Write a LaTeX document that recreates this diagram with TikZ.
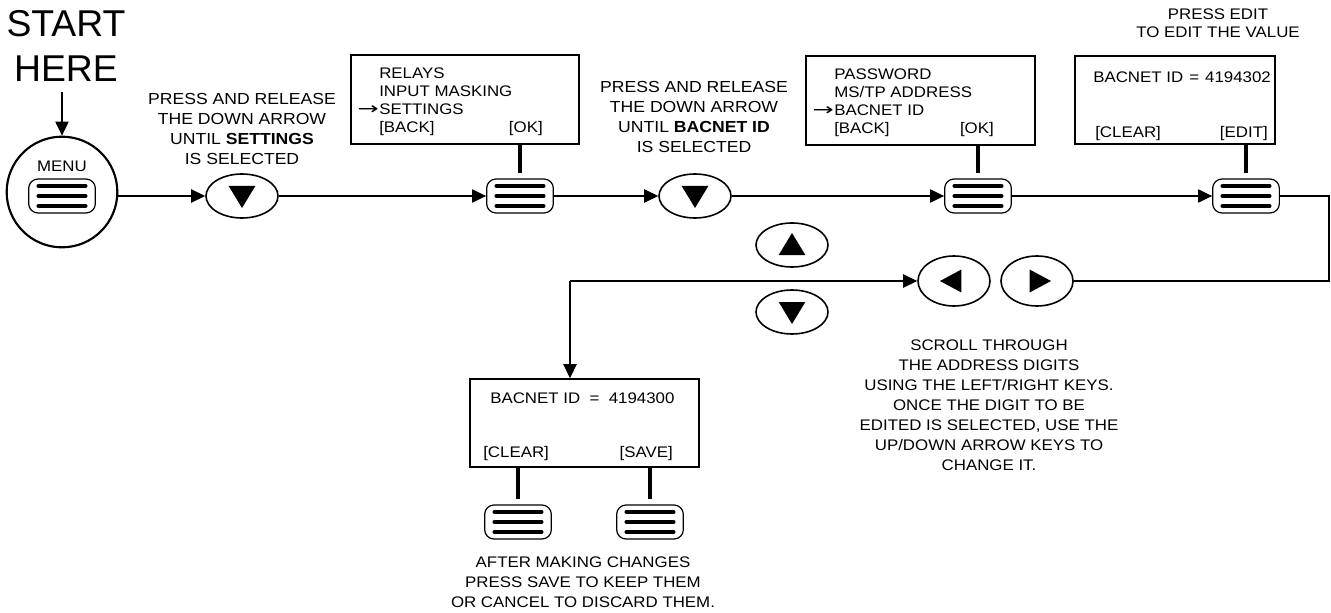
\documentclass[tikz,border=0pt]{standalone}
\usepackage{graphicx}
\usepackage{fontspec}
\setmainfont{Liberation Sans}[FakeStretch=1.1]
\newfontfamily\bigsans{Liberation Sans}
\newfontfamily\dvs{DejaVu Sans}
\usetikzlibrary{shapes.geometric,arrows.meta,calc}
\newcommand\tx{\fontsize{11.5}{13.5}\selectfont}
\newcommand\nt{\fontsize{11.5}{15}\selectfont}
\newcommand\ntb{\fontsize{12}{15}\selectfont}
\newcommand\rarr{\scalebox{1.65}[1.1]{\dvs →}}
\begin{document}
\begin{tikzpicture}[x=0.75pt,y=-0.75pt,
  t/.style={inner sep=0pt, text height=8.3pt, text depth=0pt, font=\tx},
  note/.style={align=center, inner sep=0pt, anchor=north, font=\nt},
  line/.style={line width=0.8pt},
  arr/.style={line width=0.8pt, -{Triangle[length=10.5pt,width=10pt]}},
  stem/.style={line width=3.4pt},
  scr/.style={draw, line width=1.2pt, inner sep=0pt},
  btn/.style={draw, line width=0.9pt, rounded corners=7pt, minimum width=50pt,
    minimum height=25.5pt, inner sep=0pt, fill=white,
    path picture={\foreach \dy in {-7.5pt,0pt,7.5pt}
      \draw[black, line width=3.3pt, line cap=round]
        ([xshift=-17.5pt,yshift=\dy]path picture bounding box.center) -- ++(35pt,0pt);}},
  key/.style={ellipse, draw, line width=1.2pt, inner sep=0pt, fill=white,
    minimum width=54pt, minimum height=33pt},
  keyd/.style={key, path picture={\fill[black] ([yshift=-9pt]path picture bounding box.center)
      -- ++(-10pt,16.5pt) -- ++(20pt,0pt) -- cycle;}},
  keyu/.style={key, path picture={\fill[black] ([yshift=9pt]path picture bounding box.center)
      -- ++(-10pt,-16.5pt) -- ++(20pt,0pt) -- cycle;}},
  keyl/.style={key, minimum height=37.5pt, path picture={\fill[black] ([xshift=-10.5pt]path picture bounding box.center)
      -- ++(16pt,8.6pt) -- ++(0pt,-17.2pt) -- cycle;}},
  keyr/.style={key, minimum height=37.5pt, path picture={\fill[black] ([xshift=10.5pt]path picture bounding box.center)
      -- ++(-16pt,8.6pt) -- ++(0pt,-17.2pt) -- cycle;}}
]
\fill[white] (0,0) rectangle (1331,613);
\useasboundingbox (0,0) rectangle (1331,613);

% start
\node[font=\bigsans\fontsize{28}{34}\selectfont, align=center, anchor=north, inner sep=0pt] (start) at (66,10) {START\\HERE};
\coordinate (c0) at (62,92);
\node[circle, draw, line width=1.6pt, minimum size=83pt, inner sep=0pt] (menuc) at (62,192) {};
\node[t] (menut) at (62,166) {MENU};
\node[btn] (b1) at (62,196) {};
\draw[arr] (c0) -- (menuc.north);

% step 1
\node[note, font=\ntb] (n1) at (242,93.3) {PRESS AND RELEASE\\THE DOWN ARROW\\UNTIL \textbf{SETTINGS}\\IS SELECTED};
\node[keyd] (k1) at (242,196) {};
\draw[arr] (menuc.east |- b1.center) -- (k1.west);

% screen 1
\node[scr, minimum width=171pt, minimum height=66.75pt] (s1) at (465,99.5) {};
\node[t, anchor=west] (s1a) at (379,73) {RELAYS};
\node[t, anchor=west] (s1b) at (379,91) {INPUT MASKING};
\node[t, anchor=west] (s1c) at (379,109) {SETTINGS};
\node[t, anchor=east] (s1r) at (s1c.west) {\rarr};
\node[t, anchor=west] (s1d) at (379,127) {[BACK]};
\node[t, anchor=east] (s1e) at (543,127) {[OK]};
\node[btn] (b2) at (520,196) {};
\draw[stem] (b2.north |- s1.south) -- ([yshift=4pt]b2.north);
\draw[arr] (k1.east) -- (b2.west);

% step 2
\node[note, font=\ntb] (n2) at (694,81.3) {PRESS AND RELEASE\\THE DOWN ARROW\\UNTIL \textbf{BACNET ID}\\IS SELECTED};
\node[keyd] (k2) at (695,196) {};
\draw[arr] (b2.east) -- (k2.west);

% screen 2
\node[scr, minimum width=171.75pt, minimum height=66.75pt] (s2) at (920.5,100.5) {};
\node[t, anchor=west] (s2a) at (834,74) {PASSWORD};
\node[t, anchor=west] (s2b) at (834,92) {MS/TP ADDRESS};
\node[t, anchor=west] (s2c) at (834,110) {BACNET ID};
\node[t, anchor=east] (s2r) at (s2c.west) {\rarr};
\node[t, anchor=west] (s2d) at (834,128) {[BACK]};
\node[t, anchor=east] (s2e) at (994,128) {[OK]};
\node[btn] (b3) at (978,196) {};
\draw[stem] (b3.north |- s2.south) -- ([yshift=4pt]b3.north);
\draw[arr] (k2.east) -- (b3.west);

% screen 3
\node[note, font=\tx] (n3) at (1218,8.5) {PRESS EDIT\\TO EDIT THE VALUE};
\node[scr, minimum width=150pt, minimum height=66pt] (s3) at (1175,100) {};
\node[t, anchor=west] (s3a) at (1093,77) {BACNET ID\hspace{1pt}\ =\ \hspace{1pt}4194302};
\node[t, anchor=west] (s3b) at (1095,132) {[CLEAR]};
\node[t, anchor=east] (s3c) at (1268,132) {[EDIT]};
\node[btn] (b4) at (1246,196) {};
\draw[stem] (b4.north |- s3.south) -- ([yshift=4pt]b4.north);
\draw[arr] (b3.east) -- (b4.west);

% edit keys
\node[keyu] (ku) at (792,245) {};
\node[keyd] (kd) at (792,312) {};
\node[keyl] (kl) at (954,281) {};
\node[keyr] (kr) at (1037,281) {};
\coordinate (c2) at (1329,281);
\draw[line] (b4.east) -| (c2) -- (kr.east);
\coordinate (c1) at (570,281);
\draw[arr] (c1) -- (kl.west);

\node[note] (n4) at (989,339.5) {SCROLL THROUGH\\THE ADDRESS DIGITS\\USING THE LEFT/RIGHT KEYS.\\ONCE THE DIGIT TO BE\\EDITED IS SELECTED, USE THE\\UP/DOWN ARROW KEYS TO\\CHANGE IT.};

% screen 4
\node[scr, minimum width=171.75pt, minimum height=66pt] (s5) at (584.5,423) {};
\draw[arr] (c1) -- (c1 |- s5.north);
\node[t, anchor=west] (s5a) at (490,398) {BACNET ID~~=~~4194300};
\node[t, anchor=west] (s5b) at (483,452) {[CLEAR]};
\node[t, anchor=east] (s5c) at (673,452) {[SAVE]};
\node[btn] (b5) at (518,522) {};
\node[btn] (b6) at (650,522) {};
\draw[stem] (b5.north |- s5.south) -- ([yshift=4pt]b5.north);
\draw[stem] (b6.north |- s5.south) -- ([yshift=4pt]b6.north);
\node[note] (n5) at (583,556.5) {AFTER MAKING CHANGES\\PRESS SAVE TO KEEP THEM\\OR CANCEL TO DISCARD THEM.};
\end{tikzpicture}
\end{document}
